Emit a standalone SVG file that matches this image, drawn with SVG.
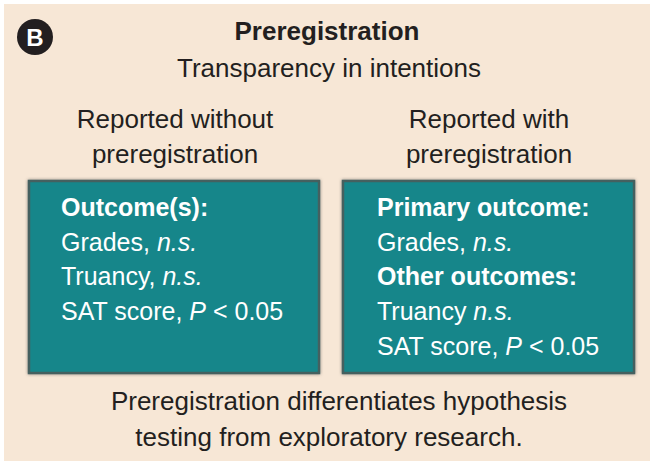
<svg xmlns="http://www.w3.org/2000/svg" width="650" height="461" viewBox="0 0 650 461">
  <defs>
    <filter id="sh" x="-5%" y="-5%" width="110%" height="110%">
      <feGaussianBlur in="SourceAlpha" stdDeviation="1.5"/>
      <feOffset dx="0" dy="0" result="b"/>
      <feFlood flood-color="#3a3a3a" flood-opacity="0.6"/>
      <feComposite in2="b" operator="in"/>
      <feMerge><feMergeNode/><feMergeNode in="SourceGraphic"/></feMerge>
    </filter>
  </defs>
  <style>
    text { font-family: "Liberation Sans", Arial, sans-serif; }
    .h { font-size: 26px; fill: #231f20; text-anchor: middle; }
    .t { font-size: 26px; fill: #231f20; text-anchor: middle; font-weight: bold; }
    .b { font-size: 25px; fill: #ffffff; }
    .bb { font-size: 25px; fill: #ffffff; font-weight: bold; }
    .box { fill: #15868a; stroke: #45605f; stroke-width: 2.5; }
  </style>
  <rect x="0" y="0" width="650" height="461" fill="#ffffff"/>
  <rect x="4" y="4" width="646" height="457" fill="#f7e7d6"/>

  <g id="badge">
    <circle cx="35" cy="37" r="18" fill="#231f20"/>
    <text x="35" y="46" font-size="24" font-weight="bold" fill="#ffffff" text-anchor="middle">B</text>
  </g>

  <g id="title">
    <text class="t" x="327" y="40">Preregistration</text>
    <text class="h" x="329" y="77">Transparency in intentions</text>
  </g>

  <g id="left">
    <text class="h" x="175" y="128">Reported without</text>
    <text class="h" x="175" y="163">preregistration</text>
    <rect class="box" x="29" y="181" width="290" height="192" filter="url(#sh)"/>
    <text class="bb" x="61" y="216">Outcome(s):</text>
    <text class="b" x="61" y="251">Grades, <tspan font-style="italic">n.s.</tspan></text>
    <text class="b" x="61" y="285">Truancy, <tspan font-style="italic">n.s.</tspan></text>
    <text class="b" x="61" y="320">SAT score, <tspan font-style="italic">P</tspan> &lt; 0.05</text>
  </g>

  <g id="right">
    <text class="h" x="489" y="128">Reported with</text>
    <text class="h" x="489" y="163">preregistration</text>
    <rect class="box" x="343" y="181" width="291" height="192" filter="url(#sh)"/>
    <text class="bb" x="377" y="216">Primary outcome:</text>
    <text class="b" x="377" y="251">Grades, <tspan font-style="italic">n.s.</tspan></text>
    <text class="bb" x="377" y="285">Other outcomes:</text>
    <text class="b" x="377" y="320">Truancy <tspan font-style="italic">n.s.</tspan></text>
    <text class="b" x="377" y="355">SAT score, <tspan font-style="italic">P</tspan> &lt; 0.05</text>
  </g>

  <g id="caption">
    <text class="h" x="339" y="410">Preregistration differentiates hypothesis</text>
    <text class="h" x="329" y="446">testing from exploratory research.</text>
  </g>
  <g id="connectors"/>
</svg>
